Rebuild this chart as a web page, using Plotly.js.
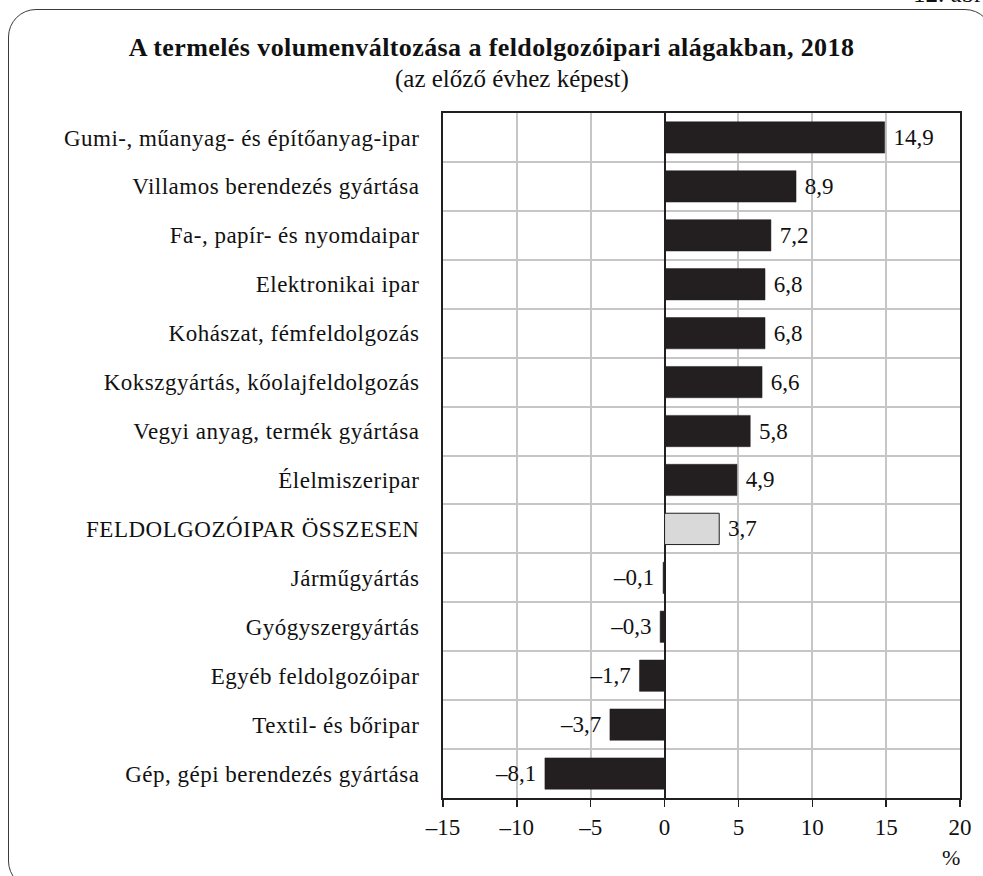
<!DOCTYPE html>
<html>
<head>
<meta charset="utf-8">
<script src="https://cdn.plot.ly/plotly-3.0.1.min.js"></script>
<style>
html, body { margin: 0; padding: 0; overflow: hidden; background: #fff; }
#frame { position: absolute; left: 8px; top: 9px; width: 985px; height: 880px;
  border: 1.5px solid #3a3a3a; border-radius: 28px; box-sizing: border-box; }
#chart { position: absolute; left: 0; top: 0; width: 983px; height: 876px; }
#chart .ytick text { letter-spacing: 0.5px; }
#chart .gtitle { letter-spacing: 0.4px; }
</style>
</head>
<body>
<div id="frame"></div>
<div id="chart"></div>
<script>
const categories = [
  "Gumi-, műanyag- és építőanyag-ipar",
  "Villamos berendezés gyártása",
  "Fa-, papír- és nyomdaipar",
  "Elektronikai ipar",
  "Kohászat, fémfeldolgozás",
  "Kokszgyártás, kőolajfeldolgozás",
  "Vegyi anyag, termék gyártása",
  "Élelmiszeripar",
  "FELDOLGOZÓIPAR ÖSSZESEN",
  "Járműgyártás",
  "Gyógyszergyártás",
  "Egyéb feldolgozóipar",
  "Textil- és bőripar",
  "Gép, gépi berendezés gyártása"
];
const values = [14.9, 8.9, 7.2, 6.8, 6.8, 6.6, 5.8, 4.9, 3.7, -0.1, -0.3, -1.7, -3.7, -8.1];
const totalCategory = "FELDOLGOZÓIPAR ÖSSZESEN";
const xTickValues = [-15, -10, -5, 0, 5, 10, 15, 20];

const fmt = v => (v < 0 ? "\u2013" : "") + Math.abs(v).toFixed(1).replace(".", ",");
const fmtTick = v => (v < 0 ? "\u2013" : "") + Math.abs(v);
const pad = "\u00a0";
const barText = v => v < 0 ? fmt(v) + pad : pad + fmt(v);

const FONT = "Liberation Serif";
const dark = "#231f20";

const trace = {
  type: "bar",
  orientation: "h",
  y: categories,
  x: values,
  text: values.map(barText),
  textposition: "outside",
  constraintext: "none",
  cliponaxis: false,
  textfont: { family: FONT, size: 23, color: "#111" },
  width: 0.64,
  marker: {
    color: categories.map(c => c === totalCategory ? "#d9d9d9" : dark),
    line: {
      color: categories.map(c => c === totalCategory ? dark : dark),
      width: categories.map(c => c === totalCategory ? 1 : 0.5)
    }
  },
  hoverinfo: "skip"
};

const layout = {
  width: 983,
  height: 876,
  margin: { l: 443, r: 23, t: 113, b: 78 },
  paper_bgcolor: "rgba(0,0,0,0)",
  plot_bgcolor: "#ffffff",
  showlegend: false,
  bargap: 0.36,
  font: { family: FONT, size: 23, color: "#111" },
  title: {
    text: "<b>A termelés volumenváltozása a feldolgozóipari alágakban, 2018</b>",
    font: { family: FONT, size: 26, color: "#111" },
    x: 0.5, xref: "container", xanchor: "center",
    y: 1 - 47 / 876, yref: "container", yanchor: "middle"
  },
  xaxis: {
    range: [-15, 20],
    tickvals: xTickValues,
    ticktext: xTickValues.map(fmtTick),
    ticks: "outside",
    ticklen: 7,
    tickwidth: 1.5,
    tickcolor: dark,
    showline: true,
    linecolor: dark,
    linewidth: 2,
    mirror: true,
    showgrid: true,
    gridcolor: "#c6c6c6",
    gridwidth: 2,
    zeroline: true,
    zerolinecolor: dark,
    zerolinewidth: 2,
    tickfont: { family: FONT, size: 23, color: "#111" },
    fixedrange: true
  },
  yaxis: {
    type: "category",
    autorange: "reversed",
    tickson: "boundaries",
    ticks: "",
    showline: true,
    linecolor: dark,
    linewidth: 2,
    mirror: true,
    showgrid: true,
    gridcolor: "#c6c6c6",
    gridwidth: 2,
    ticklabelstandoff: 17,
    tickfont: { family: FONT, size: 23, color: "#111" },
    fixedrange: true
  },
  annotations: [
    {
      text: "(az előző évhez képest)",
      xref: "paper", yref: "paper",
      x: (512 - 443) / 517, y: (798 - 79) / 685,
      xanchor: "center", yanchor: "middle",
      showarrow: false,
      font: { family: FONT, size: 25, color: "#111" }
    },
    {
      text: "%",
      xref: "paper", yref: "paper",
      x: (951 - 443) / 517, y: (798 - 858) / 685,
      xanchor: "center", yanchor: "middle",
      showarrow: false,
      font: { family: FONT, size: 22, color: "#111" }
    },
    {
      text: "12. ábra",
      xref: "paper", yref: "paper",
      x: (911 - 443) / 517, y: (798 - 9) / 685,
      xanchor: "left", yanchor: "bottom",
      showarrow: false,
      font: { family: FONT, size: 25, color: "#111" }
    }
  ]
};

Plotly.newPlot("chart", [trace], layout, { staticPlot: true, displayModeBar: false });
</script>
</body>
</html>
